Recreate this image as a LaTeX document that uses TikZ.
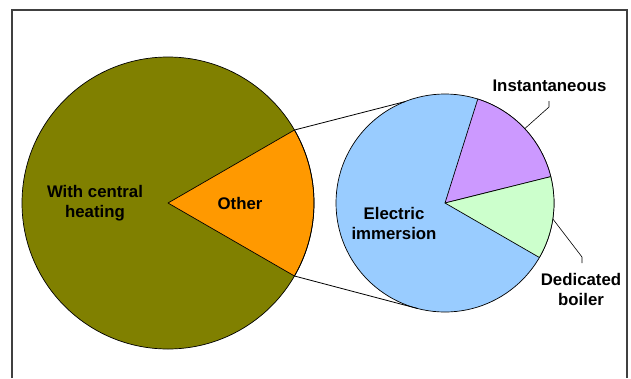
\documentclass[tikz,border=0pt]{standalone}
\usepackage{fontspec}
\setmainfont{Liberation Sans}
\usetikzlibrary{calc}
\definecolor{olivec}{HTML}{808000}
\definecolor{orangec}{HTML}{FF9900}
\definecolor{bluec}{HTML}{99CCFF}
\definecolor{purplec}{HTML}{CC99FF}
\definecolor{greenc}{HTML}{CCFFCC}
\definecolor{framec}{HTML}{404040}
\begin{document}
\begin{tikzpicture}[x=1pt,y=-1pt,
  wedge/.style={draw=black,line width=0.7pt,line join=round},
  lbl/.style={font=\fontsize{16.8}{20}\selectfont\bfseries,align=center,inner sep=0pt},
  conn/.style={draw=black,line width=0.8pt}]
\useasboundingbox (0,0) rectangle (631,378);
\draw[framec,line width=1.5pt] (12,378) -- (12,10) -- (627,10) -- (627,378);
% left pie
\coordinate (L) at (168,203);
\fill[olivec] (L) circle[radius=146];
\draw[wedge,fill=orangec] (L) -- ++(-30:146) coordinate (LU) arc[start angle=-30,end angle=30,radius=146] coordinate (LD) -- cycle;
\draw[wedge] (L) circle[radius=146];
% right pie
\coordinate (R) at (445,203);
\draw[wedge,fill=bluec] (R) circle[radius=109];
\draw[wedge,fill=purplec] (R) -- ++(-72.5:109) arc[start angle=-72.5,end angle=-14,radius=109] -- cycle;
\draw[wedge,fill=greenc] (R) -- ++(-14:109) arc[start angle=-14,end angle=30,radius=109] -- cycle;
% connectors
\coordinate (RU) at ($(R)+(-111.6:109)$);
\coordinate (RD) at ($(R)+(104.7:109)$);
\draw[conn] (LU) -- (RU);
\draw[conn] (LD) -- (RD);
% labels
\node[lbl] (wch) at (95,203) {With central\\heating};
\node[lbl] (oth) at (240,203) {Other};
\node[lbl] (ei) at (394,223) {Electric\\immersion};
\node[lbl] (ins) at (549.5,86) {Instantaneous};
\node[lbl] (db) at (581,289) {Dedicated\\boiler};
% leader lines
\coordinate (insA) at ($(R)+(-43:109)$);
\coordinate (insT) at (549,101);
\coordinate (insB) at (549,107);
\coordinate (dbA) at ($(R)+(8.4:109)$);
\coordinate (dbB) at (582,257);
\coordinate (dbT) at (582,263);
\draw[conn,line width=0.6pt] (insT) -- (insB) -- (insA);
\draw[conn,line width=0.6pt] (dbA) -- (dbB) -- (dbT);
\end{tikzpicture}
\end{document}
